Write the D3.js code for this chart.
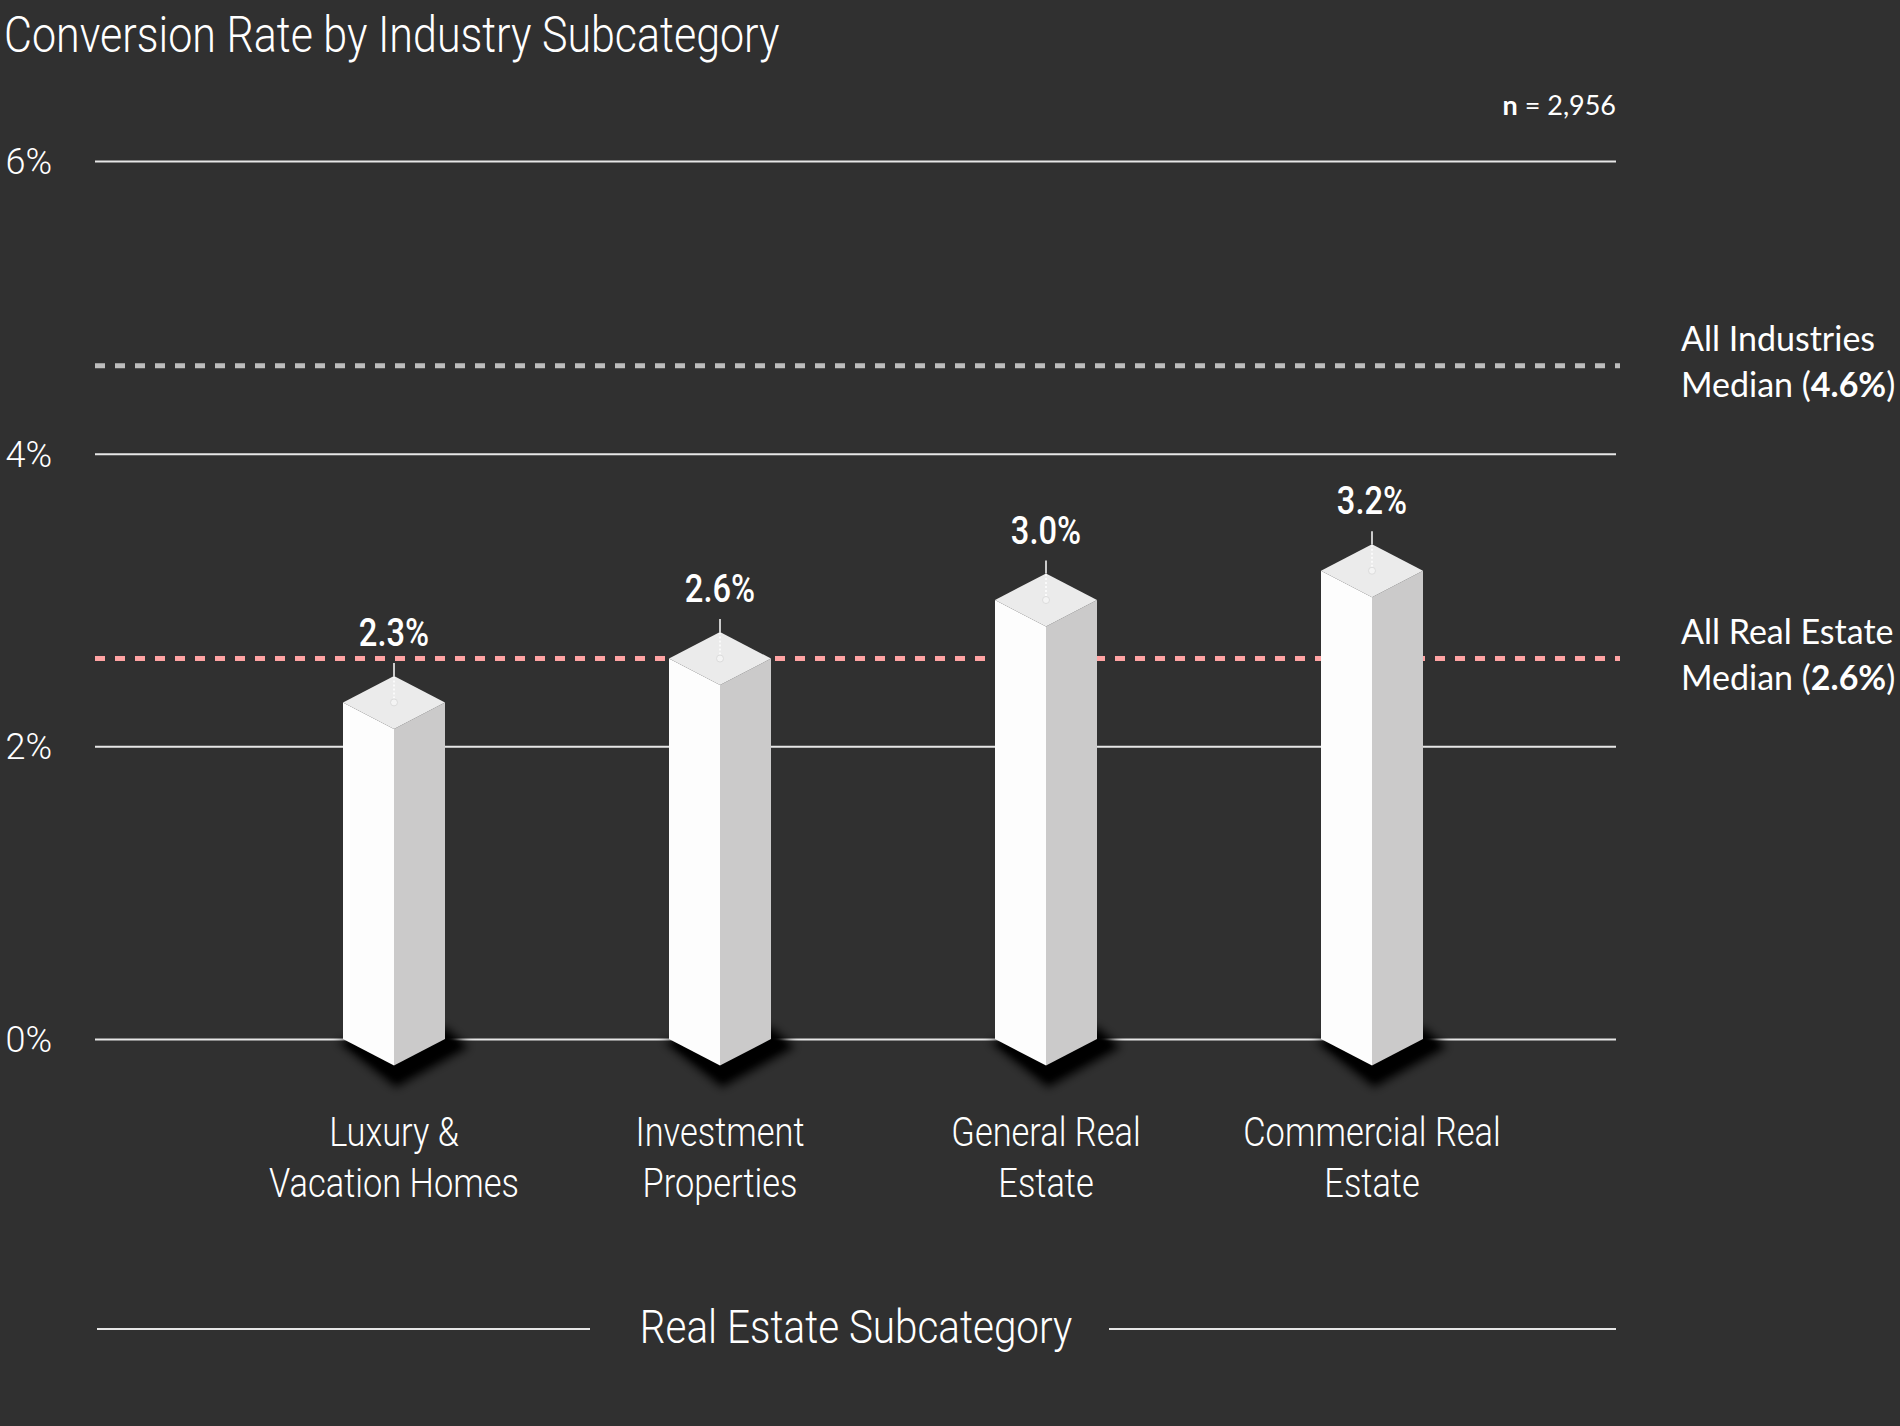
<!DOCTYPE html>
<html>
<head>
<meta charset="utf-8">
<script src="https://cdn.jsdelivr.net/npm/d3@7"></script>
<style>
  html, body { margin: 0; padding: 0; background: #303030; }
  svg { display: block; }
</style>
</head>
<body>
<div class="chart"></div>
<script>
const WIDTH = 1900
const HEIGHT = 1426

const TITLE = "Conversion Rate by Industry Subcategory"
const CATEGORIES = ["Luxury &\nVacation Homes", "Investment\nProperties", "General Real\nEstate", "Commercial Real\nEstate"]
const VALUES = [2.3, 2.6, 3.0, 3.2]
const Y_TICKS = [0, 2, 4, 6]
const MEDIAN_NAMES = ["All Industries", "All Real Estate"]
const MEDIAN_VALUES = [4.6, 2.6]
const MEDIAN_COLORS = ["#bdbdbd", "#ffa3a3"]
const SAMPLE_N = "2,956"
const X_TITLE = "Real Estate Subcategory"

const GRID_LEFT = 95
const GRID_RIGHT = 1616
const COND = 0.86   // squeeze for the condensed face
const HALF_W = 51
const ISO_DY = 26.5

const svg = d3.select(".chart").append("svg").attr("width", WIDTH).attr("height", HEIGHT);
svg.append("rect").attr("width", WIDTH).attr("height", HEIGHT).attr("fill", "#303030");

const defs = svg.append("defs");
defs.append("filter").attr("id", "shadow").attr("x", "-50%").attr("y", "-50%").attr("width", "200%").attr("height", "200%")
  .append("feGaussianBlur").attr("stdDeviation", 5);
defs.append("filter").attr("id", "shadowCore").attr("x", "-50%").attr("y", "-50%").attr("width", "200%").attr("height", "200%")
  .append("feGaussianBlur").attr("stdDeviation", 2.5);

// scales
let yScale = d3.scaleLinear().domain([0, 6]).range([1039, 161]);
let xScale = d3.scalePoint().domain(CATEGORIES).range([394, 1372]);
const y0 = yScale(0);

function condText(parent, x, y, str, size, weight, anchor) {
  return parent.append("text")
    .attr("transform", `translate(${x},${y}) scale(${COND},1)`)
    .attr("text-anchor", anchor || "start")
    .attr("font-family", "Roboto, 'DejaVu Sans', sans-serif")
    .attr("font-size", size)
    .attr("font-weight", weight)
    .attr("fill", "#ffffff")
    .text(str);
}

// title
condText(svg, 4, 52, TITLE, 50, 300);

// grid + tick labels
let leftAxis = d3.axisLeft(yScale).tickValues(Y_TICKS).tickFormat(d => d + "%")
  .tickSize(-(GRID_RIGHT - GRID_LEFT)).tickPadding(43);
let yAxis = svg.append("g").attr("transform", `translate(${GRID_LEFT},0)`).call(leftAxis);
yAxis.select(".domain").remove();
yAxis.selectAll(".tick line").attr("stroke", "#e6e6e6").attr("stroke-width", 2);
yAxis.selectAll(".tick text").attr("fill", "#ffffff").attr("font-family", "Roboto, sans-serif")
  .attr("font-weight", 300).attr("font-size", 36).attr("dy", "0.35em");

// n label
svg.append("text").attr("x", GRID_RIGHT).attr("y", 115).attr("text-anchor", "end")
  .attr("font-family", "Lato, 'Open Sans', sans-serif").attr("font-size", 27).attr("fill", "#ffffff")
  .call(t => {
    t.append("tspan").attr("font-weight", 700).text("n");
    t.append("tspan").text(" = " + SAMPLE_N);
  });

// median lines
MEDIAN_VALUES.forEach((m, i) => {
  svg.append("line").attr("x1", GRID_LEFT).attr("x2", 1620)
    .attr("y1", yScale(m)).attr("y2", yScale(m))
    .attr("stroke", MEDIAN_COLORS[i]).attr("stroke-width", 5).attr("stroke-dasharray", "10,10");

  let lab = svg.append("text").attr("x", 1681).attr("y", yScale(m) - 15)
    .attr("font-family", "Lato, 'Open Sans', sans-serif").attr("font-size", 34).attr("fill", "#ffffff");
  lab.append("tspan").attr("x", 1681).text(MEDIAN_NAMES[i]);
  let l2 = lab.append("tspan").attr("x", 1681).attr("dy", 46);
  l2.append("tspan").text("Median (");
  l2.append("tspan").attr("font-weight", 700).text(m.toFixed(1) + "%");
  l2.append("tspan").text(")");
});

// bars
let bars = svg.append("g").selectAll("g").data(VALUES).join("g")
  .attr("transform", (d, i) => `translate(${xScale(CATEGORIES[i])},0)`);

const pts = arr => arr.map(p => p.join(",")).join(" ");

// soft shadow under each column
bars.append("polygon")
  .attr("points", pts([[-HALF_W - 6, y0 + 2], [2, y0 + ISO_DY + 22], [HALF_W + 24, y0 + 8], [HALF_W, y0 - 12]]))
  .attr("fill", "#000").attr("filter", "url(#shadow)");
bars.append("polygon")
  .attr("points", pts([[-HALF_W + 2, y0 + 4], [2, y0 + ISO_DY + 14], [HALF_W + 14, y0 + 6], [HALF_W - 4, y0 - 6]]))
  .attr("fill", "#000").attr("filter", "url(#shadowCore)");

bars.append("polygon")
  .attr("points", d => pts([[-HALF_W, yScale(d)], [0, yScale(d) + ISO_DY], [0, y0 + ISO_DY], [-HALF_W, y0]]))
  .attr("fill", "#fdfdfd");
bars.append("polygon")
  .attr("points", d => pts([[0, yScale(d) + ISO_DY], [HALF_W, yScale(d)], [HALF_W, y0], [0, y0 + ISO_DY]]))
  .attr("fill", "#cbcaca");
bars.append("polygon")
  .attr("points", d => pts([[-HALF_W, yScale(d)], [0, yScale(d) - ISO_DY], [HALF_W, yScale(d)], [0, yScale(d) + ISO_DY]]))
  .attr("fill", "#ebebeb");

// leaders
bars.append("line").attr("x1", 0).attr("x2", 0)
  .attr("y1", d => yScale(d)).attr("y2", d => yScale(d) - ISO_DY)
  .attr("stroke", "#ffffff").attr("stroke-width", 1.5).attr("stroke-dasharray", "2,2");
bars.append("line").attr("x1", 0).attr("x2", 0)
  .attr("y1", d => yScale(d) - ISO_DY).attr("y2", d => yScale(d) - ISO_DY - 13)
  .attr("stroke", "#ffffff").attr("stroke-width", 1.5);
bars.append("circle").attr("cx", 0).attr("cy", d => yScale(d)).attr("r", 3.5)
  .attr("fill", "#f4f4f4").attr("stroke", "#dcdcdc");

bars.each(function(d) {
  condText(d3.select(this), 0, yScale(d) - ISO_DY - 30, d.toFixed(1) + "%", 38, 500, "middle");
});

// category labels
CATEGORIES.forEach(c => {
  c.split("\n").forEach((line, j) => {
    condText(svg, xScale(c), 1146 + j * 51, line, 40, 300, "middle");
  });
});

// x axis title with rules
svg.append("line").attr("x1", 97).attr("x2", 590).attr("y1", 1329).attr("y2", 1329)
  .attr("stroke", "#e6e6e6").attr("stroke-width", 2);
svg.append("line").attr("x1", 1109).attr("x2", GRID_RIGHT).attr("y1", 1329).attr("y2", 1329)
  .attr("stroke", "#e6e6e6").attr("stroke-width", 2);
condText(svg, 856, 1343, X_TITLE, 47, 300, "middle");
</script>
</body>
</html>
